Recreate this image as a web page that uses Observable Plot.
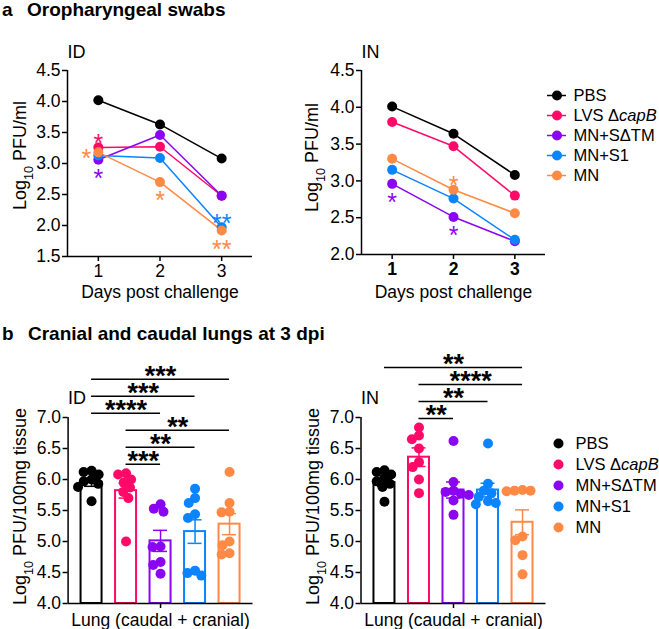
<!DOCTYPE html>
<html><head><meta charset="utf-8">
<script src="https://cdn.jsdelivr.net/npm/d3@7"></script>
<script src="https://cdn.jsdelivr.net/npm/@observablehq/plot@0.6"></script>
<style>
html,body{margin:0;padding:0;background:#fff;}
#root{position:relative;width:659px;height:629px;overflow:hidden;font-family:"Liberation Sans",Arial,sans-serif;}
#root > svg{position:absolute;}
</style></head><body>
<div id="root"></div>
<script>
// ---------- data ----------
const groups = ["PBS", "LVS ΔcapB", "MN+SΔTM", "MN+S1", "MN"];
const groupColors = ["#000000", "#ff0a68", "#8a05f2", "#0a84ff", "#ff8a45"];
const days = [1, 2, 3];

// a: oropharyngeal swabs (Log10 PFU/ml), days 1-3
const swabID_PBS  = [4.02, 3.63, 3.08];
const swabID_LVS  = [3.26, 3.27, 2.48];
const swabID_SdTM = [3.06, 3.46, 2.48];
const swabID_S1   = [3.13, 3.09, 1.97];
const swabID_MN   = [3.18, 2.70, 1.92];

const swabIN_PBS  = [4.01, 3.64, 3.08];
const swabIN_LVS  = [3.80, 3.47, 2.80];
const swabIN_SdTM = [2.96, 2.51, 2.18];
const swabIN_S1   = [3.15, 2.76, 2.20];
const swabIN_MN   = [3.30, 2.88, 2.56];

const swabID_sig = [
  {day: 1, group: "LVS ΔcapB", label: "*", place: "above"},
  {day: 1, group: "MN", label: "*", place: "left"},
  {day: 1, group: "MN+SΔTM", label: "*", place: "below"},
  {day: 2, group: "MN", label: "*", place: "below"},
  {day: 3, group: "MN+S1", label: "**", place: "above"},
  {day: 3, group: "MN", label: "**", place: "below"}
];
const swabIN_sig = [
  {day: 1, group: "MN+SΔTM", label: "*", place: "below"},
  {day: 2, group: "MN", label: "*", place: "above"},
  {day: 2, group: "MN+SΔTM", label: "*", place: "below"}
];
const swabYTicksID = [1.5, 2.0, 2.5, 3.0, 3.5, 4.0, 4.5];
const swabYTicksIN = [2.0, 2.5, 3.0, 3.5, 4.0, 4.5];

// b: cranial + caudal lungs at 3 dpi (Log10 PFU/100mg tissue)
const lungID_PBS  = [6.14, 6.12, 6.08, 6.00, 5.97, 5.93, 5.88, 5.65];
const lungID_LVS  = [6.10, 6.08, 6.00, 5.95, 5.87, 5.80, 5.70, 5.00];
const lungID_SdTM = [5.60, 5.53, 5.48, 4.92, 4.91, 4.67, 4.62, 4.48];
const lungID_S1   = [5.85, 5.70, 5.62, 5.44, 5.38, 4.53, 4.49, 4.45];
const lungID_MN   = [6.12, 5.62, 5.48, 5.47, 5.00, 4.94, 4.81, 4.79];
const lungID_mean = [5.95, 5.82, 5.01, 5.16, 5.28];
const lungID_sem  = [0.06, 0.12, 0.17, 0.19, 0.17];

const lungIN_PBS  = [6.15, 6.12, 6.08, 6.02, 5.97, 5.93, 5.88, 5.64];
const lungIN_LVS  = [6.84, 6.71, 6.65, 6.50, 6.28, 6.20, 6.00, 5.78];
const lungIN_SdTM = [6.62, 5.96, 5.82, 5.80, 5.77, 5.75, 5.66, 5.43];
const lungIN_S1   = [6.58, 5.93, 5.82, 5.78, 5.72, 5.65, 5.62, 5.60];
const lungIN_MN   = [5.83, 5.82, 5.82, 5.81, 5.08, 5.02, 4.78, 4.47];
const lungIN_mean = [5.95, 6.36, 5.83, 5.83, 5.31];
const lungIN_sem  = [0.06, 0.15, 0.13, 0.11, 0.20];

const lungID_sig = [
  ["LVS ΔcapB", "MN+SΔTM", "***"],
  ["LVS ΔcapB", "MN+S1", "**"],
  ["LVS ΔcapB", "MN", "**"],
  ["PBS", "MN+SΔTM", "****"],
  ["PBS", "MN+S1", "***"],
  ["PBS", "MN", "***"]
];
const lungIN_sig = [
  ["LVS ΔcapB", "MN+SΔTM", "**"],
  ["LVS ΔcapB", "MN+S1", "**"],
  ["LVS ΔcapB", "MN", "****"],
  ["PBS", "MN", "**"]
];
const lungYTicks = [4.0, 4.5, 5.0, 5.5, 6.0, 6.5, 7.0];

// ---------- helpers ----------
const FONT = "Liberation Sans, Arial, Helvetica, sans-serif";
const FS = 17.5;
const root = document.getElementById("root");
const colorScale = {domain: groups, range: groupColors};
const baseStyle = {fontFamily: FONT, fontSize: FS + "px", background: "transparent", overflow: "visible", color: "black"};

function place(svg, left, top) {
  svg.style.left = left + "px";
  svg.style.top = top + "px";
  richText(svg);
  root.appendChild(svg);
}

function richText(svg) {
  d3.select(svg).selectAll("text").each(function() {
    const t = this.textContent;
    if (this.querySelector("tspan")) return;
    if (t.startsWith("Log10")) {
      const sel = d3.select(this).text(null);
      sel.append("tspan").text("Log");
      sel.append("tspan").attr("baseline-shift", "sub").attr("font-size", "0.7em").text("10");
      sel.append("tspan").text(t.slice(5));
    } else if (t.includes("ΔcapB")) {
      const sel = d3.select(this).text(null);
      sel.append("tspan").text(t.replace("capB", ""));
      sel.append("tspan").attr("font-style", "italic").text("capB");
    }
  });
}

const STAR_FS = 25;
const starShift = 0.253 * STAR_FS; // asterisk glyph sits above text middle
function starMarks(sig, series) {
  const rows = sig.map(s => ({...s, value: series[groups.indexOf(s.group)][days.indexOf(s.day)]}));
  const common = {x: "day", y: "value", text: "label", fill: "group", fontSize: STAR_FS, fontWeight: "normal", textAnchor: "middle", lineAnchor: "middle"};
  return [
    Plot.text(rows.filter(d => d.place === "above"), {...common, dy: -10 + starShift}),
    Plot.text(rows.filter(d => d.place === "below"), {...common, dy: 13 + starShift}),
    Plot.text(rows.filter(d => d.place === "left"), {...common, dx: -12, dy: starShift})
  ];
}

function swabPanel({route, series, sig, ticks, width, height, ml, mr, mt, mb, boldX, ylDx, ylDy, xlDy}) {
  const data = [];
  groups.forEach((g, i) => days.forEach((d, j) => data.push({group: g, day: d, value: series[i][j]})));
  const y0 = ticks[0], y1 = ticks[ticks.length - 1];
  return Plot.plot({
    width, height, marginLeft: ml, marginRight: mr, marginTop: mt, marginBottom: mb,
    style: baseStyle,
    x: {domain: [0.5, 3.5], label: null},
    y: {domain: [y0, y1], label: null},
    color: colorScale,
    marks: [
      Plot.ruleX([0.5], {strokeWidth: 1.5}),
      Plot.ruleY([y0], {strokeWidth: 1.5}),
      Plot.axisY({ticks, tickFormat: ".1f", tickSize: 5, tickPadding: 2, strokeWidth: 1.5, fontSize: FS, label: null}),
      Plot.axisX({ticks: days, tickFormat: "d", tickSize: 5, tickPadding: 3, strokeWidth: 1.5, fontSize: FS, fontWeight: boldX ? "bold" : "normal", label: null}),
      Plot.line(data, {x: "day", y: "value", z: "group", stroke: "group", strokeWidth: 1.5}),
      Plot.dot(data, {x: "day", y: "value", fill: "group", r: 5}),
      ...starMarks(sig, series),
      Plot.text([route], {text: d => d, frameAnchor: "top-left", textAnchor: "start", lineAnchor: "middle", dy: -18, fontSize: 18}),
      Plot.text(["Days post challenge"], {text: d => d, frameAnchor: "bottom", textAnchor: "middle", lineAnchor: "top", dy: xlDy, fontSize: FS}),
      Plot.text(["Log10 PFU/ml"], {text: d => d, frameAnchor: "left", textAnchor: "middle", lineAnchor: "middle", rotate: -90, dx: ylDx, dy: ylDy, fontSize: 18})
    ]
  });
}

function dodge(values, pxPerUnit, dmin) {
  const order = values.map((v, i) => i).sort((a, b) => values[b] - values[a]);
  const placed = [], out = new Array(values.length);
  for (const i of order) {
    const y = -values[i] * pxPerUnit;
    const cands = [0];
    for (const p of placed) {
      const dy = y - p.y;
      if (Math.abs(dy) < dmin) {
        const dx = Math.sqrt(dmin * dmin - dy * dy);
        cands.push(p.x - dx, p.x + dx);
      }
    }
    cands.sort((a, b) => Math.abs(a) - Math.abs(b) || a - b);
    for (const c of cands) {
      if (placed.every(p => (p.x - c) ** 2 + (p.y - y) ** 2 >= dmin * dmin - 1e-6)) {
        out[i] = c; placed.push({x: c, y}); break;
      }
    }
  }
  return out;
}

function lungPanel({route, values, means, sems, sig, width, height, ml, mr, mt, mb, ylDx, ylDy}) {
  const n = groups.length, xpad = 0.68;
  const xdom = [-xpad, n - 1 + xpad];
  const ydom = [lungYTicks[0], lungYTicks[lungYTicks.length - 1]];
  const pxX = (width - ml - mr) / (xdom[1] - xdom[0]);
  const pxY = (height - mt - mb) / (ydom[1] - ydom[0]);
  const halfBar = 10.5 / pxX, halfCap = 7 / pxX;
  const points = [];
  groups.forEach((g, i) => {
    const offs = dodge(values[i], pxY, 8);
    values[i].forEach((v, j) => points.push({group: g, x: i + offs[j] / pxX, value: v}));
  });
  const bars = groups.map((g, i) => ({group: g, i, mean: means[i], sem: sems[i]}));
  let prev = -Infinity;
  const brackets = sig.map(([a, b, label]) => {
    const i1 = groups.indexOf(a), i2 = groups.indexOf(b);
    const top = d3.max(values.slice(i1, i2 + 1).flat());
    const level = Math.max(top + 9 / pxY, prev + 17 / pxY);
    prev = level;
    return {i1, i2, label, level};
  });
  const BFS = 27;
  return Plot.plot({
    width, height, marginLeft: ml, marginRight: mr, marginTop: mt, marginBottom: mb,
    style: baseStyle,
    x: {domain: xdom, label: null},
    y: {domain: ydom, label: null},
    color: colorScale,
    marks: [
      Plot.rectY(bars, {x1: d => d.i - halfBar, x2: d => d.i + halfBar, y1: ydom[0], y2: "mean", stroke: "group", fill: "none", strokeWidth: 2}),
      Plot.ruleX([xdom[0]], {strokeWidth: 1.5}),
      Plot.ruleY([ydom[0]], {strokeWidth: 1.5}),
      Plot.axisY({ticks: lungYTicks, tickFormat: ".1f", tickSize: 5, tickPadding: 2, strokeWidth: 1.5, fontSize: FS, label: null}),
      Plot.axisX({ticks: [(n - 1) / 2], tickFormat: () => "", tickSize: 5, strokeWidth: 1.5, label: null}),
      Plot.dot(points, {x: "x", y: "value", fill: "group", r: 5}),
      Plot.ruleX(bars, {x: "i", y1: d => d.mean - d.sem, y2: d => d.mean + d.sem, stroke: "group", strokeWidth: 1.5}),
      Plot.ruleY(bars, {y: d => d.mean + d.sem, x1: d => d.i - halfCap, x2: d => d.i + halfCap, stroke: "group", strokeWidth: 1.5}),
      Plot.ruleY(bars, {y: d => d.mean - d.sem, x1: d => d.i - halfCap, x2: d => d.i + halfCap, stroke: "group", strokeWidth: 1.5}),
      Plot.ruleY(brackets, {y: "level", x1: "i1", x2: "i2", strokeWidth: 1.5}),
      Plot.text(brackets, {x: d => (d.i1 + d.i2) / 2, y: "level", text: "label", fontSize: BFS, fontWeight: "bold", textAnchor: "middle", lineAnchor: "middle", dy: -10 + 0.253 * BFS}),
      Plot.text([route], {text: d => d, frameAnchor: "top-left", textAnchor: "start", lineAnchor: "middle", dy: -19, fontSize: 18}),
      Plot.text(["Lung (caudal + cranial)"], {text: d => d, frameAnchor: "bottom", textAnchor: "middle", lineAnchor: "top", dy: 10, fontSize: FS}),
      Plot.text(["Log10 PFU/100mg tissue"], {text: d => d, frameAnchor: "left", textAnchor: "middle", lineAnchor: "middle", rotate: -90, dx: ylDx, dy: ylDy, fontSize: 18})
    ]
  });
}

function legend({withLine, width, height, mr, range}) {
  return Plot.plot({
    width, height, marginLeft: 0, marginRight: mr, marginTop: 0, marginBottom: 0,
    style: baseStyle,
    y: {type: "point", domain: groups, range, axis: null},
    color: colorScale,
    marks: [
      withLine ? Plot.ruleY(groups, {y: d => d, stroke: d => d, strokeWidth: 1.5}) : null,
      Plot.dot(groups, {y: d => d, fill: d => d, r: 5}),
      Plot.text(groups, {y: d => d, text: d => d, frameAnchor: "right", textAnchor: "start", lineAnchor: "middle", dx: 7, fontSize: 16.5})
    ]
  });
}

// ---------- titles ----------
const tsvg = d3.create("svg").attr("width", 659).attr("height", 629)
  .style("left", "0px").style("top", "0px")
  .attr("font-family", FONT).attr("font-weight", "bold").attr("font-size", 19);
tsvg.append("text").attr("x", 2).attr("y", 16).text("a");
tsvg.append("text").attr("x", 27).attr("y", 16).text("Oropharyngeal swabs");
tsvg.append("text").attr("x", 2).attr("y", 340).text("b");
tsvg.append("text").attr("x", 28).attr("y", 340).text("Cranial and caudal lungs at 3 dpi");
root.appendChild(tsvg.node());

// ---------- panels ----------
place(swabPanel({route: "ID", series: [swabID_PBS, swabID_LVS, swabID_SdTM, swabID_S1, swabID_MN], sig: swabID_sig,
  ticks: swabYTicksID, width: 300, height: 310, ml: 67, mr: 48, mt: 70, mb: 54, boldX: false, ylDx: -47, ylDy: -8, xlDy: 29}), 0, 0);
place(swabPanel({route: "IN", series: [swabIN_PBS, swabIN_LVS, swabIN_SdTM, swabIN_S1, swabIN_MN], sig: swabIN_sig,
  ticks: swabYTicksIN, width: 247, height: 310, ml: 61, mr: 2, mt: 70, mb: 56, boldX: true, ylDx: -49, ylDy: -5, xlDy: 31}), 300, 0);
place(legend({withLine: true, width: 112, height: 300, mr: 93, range: [83, 187]}), 547, 0);

place(lungPanel({route: "ID", values: [lungID_PBS, lungID_LVS, lungID_SdTM, lungID_S1, lungID_MN], means: lungID_mean, sems: lungID_sem,
  sig: lungID_sig, width: 300, height: 284, ml: 67.6, mr: 47.5, mt: 72, mb: 26, ylDx: -47.6, ylDy: -4}), 0, 345);
place(lungPanel({route: "IN", values: [lungIN_PBS, lungIN_LVS, lungIN_SdTM, lungIN_S1, lungIN_MN], means: lungIN_mean, sems: lungIN_sem,
  sig: lungIN_sig, width: 247, height: 284, ml: 60.5, mr: 1.5, mt: 72, mb: 26, ylDx: -47.5, ylDy: -4}), 300, 345);
place(legend({withLine: false, width: 111, height: 284, mr: 91, range: [87, 192]}), 548, 345);
</script>
</body></html>
